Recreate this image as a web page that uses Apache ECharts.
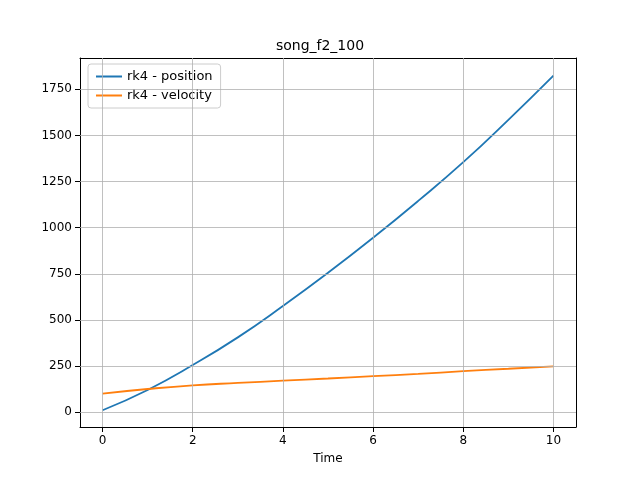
<!DOCTYPE html>
<html><head><meta charset="utf-8">
<script src="https://cdn.jsdelivr.net/npm/echarts@6/dist/echarts.min.js"></script>
<style>html,body{margin:0;background:#fff}#c{width:640px;height:480px}</style>
</head><body><div id="c"></div>
<script>
// song_f2_100: rk4 position / velocity vs time
const times = [0, 1, 2, 3, 4, 5, 6, 7, 8, 9, 10];
const position = [10, 120, 255, 405, 575, 755, 945, 1145, 1355, 1585, 1825];
const velocity = [100, 125, 145, 158, 170, 182, 195, 207, 222, 235, 248];
const xTicks = [0, 2, 4, 6, 8, 10];
const yTicks = [0, 250, 500, 750, 1000, 1250, 1500, 1750];

const gridLine = { color: '#b0b0b0', width: 0.8, type: 'solid' };
const gridMarks = {
  silent: true, symbol: 'none', label: { show: false },
  lineStyle: gridLine, animation: false,
  data: xTicks.map(v => ({ xAxis: v })).concat(yTicks.map(v => ({ yAxis: v })))
};
const frame = { show: true, onZero: false, lineStyle: { color: '#000' } };

const chart = echarts.init(document.getElementById('c'));
chart.setOption({
  animation: false,
  title: { text: 'song_f2_100', left: 'center', top: 34,
    textStyle: { fontFamily: 'DejaVu Sans', fontSize: 14, fontWeight: 'normal', color: '#000' } },
  legend: {
    left: 88, top: 64, orient: 'vertical', itemGap: 6,
    itemWidth: 26, itemHeight: 2, icon: 'rect',
    borderColor: '#ccc', borderWidth: 1, borderRadius: 3, padding: [6, 8],
    textStyle: { fontFamily: 'DejaVu Sans', fontSize: 13, color: '#000' }
  },
  grid: { left: 80, right: 64, top: 58, bottom: 53 },
  xAxis: [{
    type: 'value', min: -0.5, max: 10.5,
    name: 'Time', nameLocation: 'middle', nameGap: 26,
    nameTextStyle: { fontFamily: 'DejaVu Sans', fontSize: 12, color: '#000' },
    axisLine: frame,
    axisTick: { customValues: xTicks, lineStyle: { color: '#000' } },
    axisLabel: { customValues: xTicks, fontFamily: 'DejaVu Sans', fontSize: 12, color: '#000' },
    splitLine: { show: false }
  }, {
    type: 'value', position: 'top', min: -0.5, max: 10.5,
    axisLine: frame, axisTick: { show: false }, axisLabel: { show: false }, splitLine: { show: false }
  }],
  yAxis: [{
    type: 'value', min: -81, max: 1920,
    axisLine: frame,
    axisTick: { show: true, customValues: yTicks, lineStyle: { color: '#000' } },
    axisLabel: { customValues: yTicks, formatter: v => String(Math.round(v)),
      fontFamily: 'DejaVu Sans', fontSize: 12, color: '#000' },
    splitLine: { show: false }
  }, {
    type: 'value', position: 'right', min: -81, max: 1920,
    axisLine: frame, axisTick: { show: false }, axisLabel: { show: false }, splitLine: { show: false }
  }],
  series: [
    { name: 'rk4 - position', type: 'line', showSymbol: false, smooth: true, z: 3,
      color: '#1f77b4', lineStyle: { width: 1.8 },
      data: times.map((t, i) => [t, position[i]]), markLine: gridMarks },
    { name: 'rk4 - velocity', type: 'line', showSymbol: false, smooth: true, z: 3,
      color: '#ff7f0e', lineStyle: { width: 1.8 },
      data: times.map((t, i) => [t, velocity[i]]) }
  ]
});
</script></body></html>
